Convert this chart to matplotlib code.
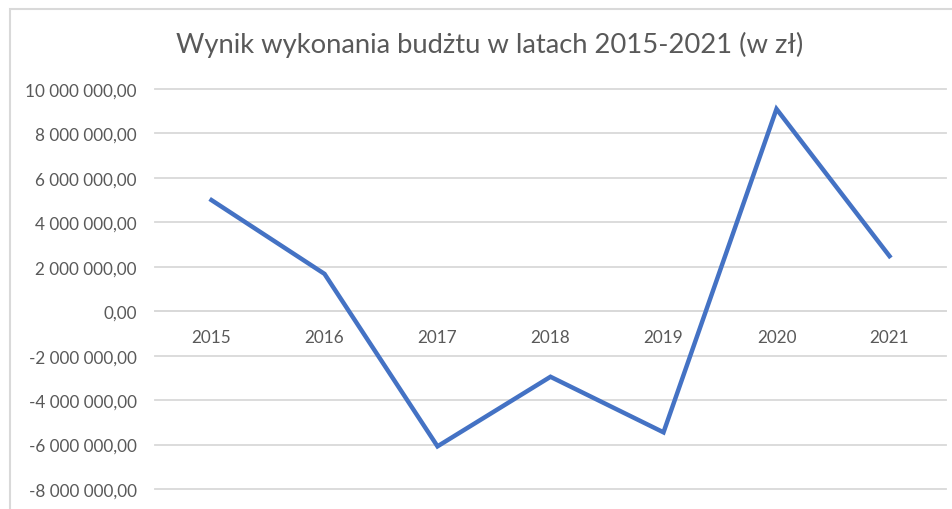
import matplotlib

matplotlib.use("Agg")
import matplotlib.pyplot as plt
from matplotlib.patches import Rectangle
from matplotlib.ticker import FuncFormatter, MultipleLocator

years = ["2015", "2016", "2017", "2018", "2019", "2020", "2021"]
wynik = [5_000_000, 1_680_000, -6_080_000, -2_950_000, -5_450_000, 9_100_000, 2_480_000]

title = "Wynik wykonania budżtu w latach 2015-2021 (w zł)"

plt.rcParams["font.family"] = ["Lato", "DejaVu Sans"]
TXT = "#595959"
GRID = "#D9D9D9"


def pl_fmt(v, _pos):
    s = f"{abs(v):,.2f}".replace(",", " ").replace(".", ",")
    return ("-" if v < 0 else "") + s


W, H = 952, 510
fig = plt.figure(figsize=(W / 100, H / 100), dpi=100)

# chart frame (cut off on the right and bottom in the screenshot)
fig.patches.append(Rectangle((10 / W, -0.1), 1.2, 1 - 10 / H + 0.1,
                             transform=fig.transFigure, fill=False,
                             ec=GRID, lw=1.5))

ax = fig.add_axes([155 / W, 1 - 490 / H, (946 - 155) / W, (490 - 90) / H])
x = range(len(years))
ax.plot(x, wynik, color="#4472C4", lw=3.2, solid_joinstyle="miter", zorder=3)

ax.set_xlim(-0.5, len(years) - 0.5)
ax.set_ylim(-8_000_000, 10_000_000)
ax.yaxis.set_major_locator(MultipleLocator(2_000_000))
ax.yaxis.set_major_formatter(FuncFormatter(pl_fmt))
ax.grid(axis="y", color=GRID, lw=1.3)
ax.set_axisbelow(True)
for gl in ax.get_ygridlines():
    gl.set_clip_on(False)

ax.set_xticks(list(x))
ax.set_xticklabels(years)
for side in ("left", "right", "top"):
    ax.spines[side].set_visible(False)
ax.spines["bottom"].set_position(("data", 0))
ax.spines["bottom"].set_color(GRID)
ax.spines["bottom"].set_linewidth(1.3)
ax.tick_params(axis="both", length=0, colors=TXT, labelsize=12.3)
ax.tick_params(axis="y", pad=13)
ax.tick_params(axis="x", pad=13)

fig.text(490 / W, 1 - 45 / H, title, ha="center", va="center",
         fontsize=19.7, color=TXT)

fig.savefig("out.png", dpi=100)
